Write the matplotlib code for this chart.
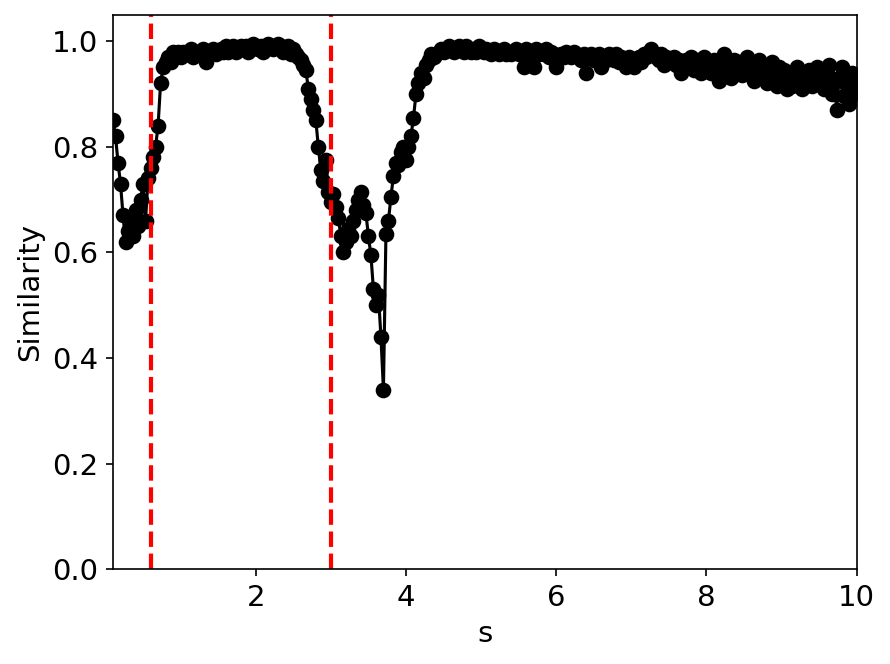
import matplotlib
matplotlib.use('Agg')
import matplotlib.pyplot as plt
import numpy as np

# frame rate of the similarity trace and time of the first frame
fps = 30
t_start = 0.1

# similarity per frame
similarity = [
    0.85, 0.82, 0.77, 0.73, 0.67, 0.62, 0.64, 0.66, 0.63, 0.68,
    0.65, 0.70, 0.73, 0.66, 0.74, 0.76, 0.78, 0.80, 0.84, 0.92,
    0.95, 0.96, 0.97, 0.96, 0.98, 0.97, 0.98, 0.97, 0.98, 0.975,
    0.975, 0.985, 0.97, 0.98, 0.975, 0.98, 0.985, 0.96, 0.975, 0.98,
    0.985, 0.975, 0.98, 0.985, 0.98, 0.99, 0.98, 0.985, 0.99, 0.98,
    0.985, 0.99, 0.985, 0.99, 0.98, 0.985, 0.995, 0.99, 0.985, 0.99,
    0.98, 0.99, 0.995, 0.99, 0.985, 0.99, 0.995, 0.99, 0.98, 0.985,
    0.99, 0.975, 0.985, 0.975, 0.97, 0.965, 0.955, 0.945, 0.91, 0.89,
    0.87, 0.85, 0.80, 0.755, 0.735, 0.775, 0.715, 0.695, 0.71, 0.685,
    0.665, 0.63, 0.60, 0.62, 0.645, 0.63, 0.66, 0.68, 0.70, 0.715,
    0.69, 0.675, 0.63, 0.595, 0.53, 0.50, 0.52, 0.44, 0.34, 0.635,
    0.66, 0.705, 0.745, 0.77, 0.765, 0.79, 0.80, 0.775, 0.80, 0.82,
    0.855, 0.90, 0.92, 0.94, 0.93, 0.955, 0.965, 0.975, 0.97, 0.975,
    0.98, 0.985, 0.98, 0.985, 0.99, 0.985, 0.98, 0.985, 0.99, 0.985,
    0.98, 0.99, 0.985, 0.98, 0.985, 0.98, 0.99, 0.985, 0.98, 0.985,
    0.98, 0.975, 0.985, 0.98, 0.975, 0.98, 0.985, 0.975, 0.98, 0.975,
    0.98, 0.985, 0.975, 0.98, 0.95, 0.985, 0.975, 0.98, 0.95, 0.985,
    0.975, 0.98, 0.975, 0.985, 0.97, 0.98, 0.975, 0.95, 0.97, 0.975,
    0.97, 0.98, 0.975, 0.97, 0.98, 0.975, 0.97, 0.965, 0.975, 0.94,
    0.97, 0.975, 0.965, 0.97, 0.975, 0.95, 0.97, 0.965, 0.975, 0.97,
    0.965, 0.975, 0.96, 0.97, 0.965, 0.95, 0.97, 0.96, 0.95, 0.965,
    0.97, 0.96, 0.975, 0.97, 0.98, 0.985, 0.975, 0.97, 0.965, 0.975,
    0.955, 0.97, 0.965, 0.96, 0.97, 0.955, 0.965, 0.94, 0.96, 0.965,
    0.96, 0.97, 0.945, 0.965, 0.955, 0.94, 0.97, 0.95, 0.96, 0.94,
    0.965, 0.95, 0.925, 0.96, 0.975, 0.94, 0.955, 0.93, 0.965, 0.945,
    0.96, 0.935, 0.955, 0.97, 0.94, 0.96, 0.925, 0.955, 0.965, 0.935,
    0.95, 0.92, 0.945, 0.96, 0.93, 0.915, 0.95, 0.935, 0.945, 0.91,
    0.94, 0.915, 0.935, 0.95, 0.925, 0.91, 0.94, 0.93, 0.945, 0.915,
    0.935, 0.95, 0.92, 0.945, 0.91, 0.94, 0.955, 0.90, 0.925, 0.87,
    0.93, 0.95, 0.895, 0.915, 0.88, 0.94, 0.90, 0.925,
]

# event markers (s)
events = [0.6, 3.0]

t = t_start + np.arange(len(similarity)) / fps

plt.rcParams['font.size'] = 14

fig = plt.figure(figsize=(890 / 150, 664 / 150), dpi=150)
ax = fig.add_axes([113 / 890, 1 - 569.3 / 664, (856.7 - 113) / 890, (569.3 - 14.6) / 664])

ax.plot(t, similarity, 'ko-', markersize=6.5)
for e in events:
    ax.axvline(e, color='r', linestyle='--', linewidth=2)

ax.set_xlim(t_start, 10)
ax.set_ylim(0, 1.05)
ax.set_xticks([2, 4, 6, 8, 10])
ax.set_xlabel('s')
ax.set_ylabel('Similarity')

fig.savefig('out.png', dpi=150)
